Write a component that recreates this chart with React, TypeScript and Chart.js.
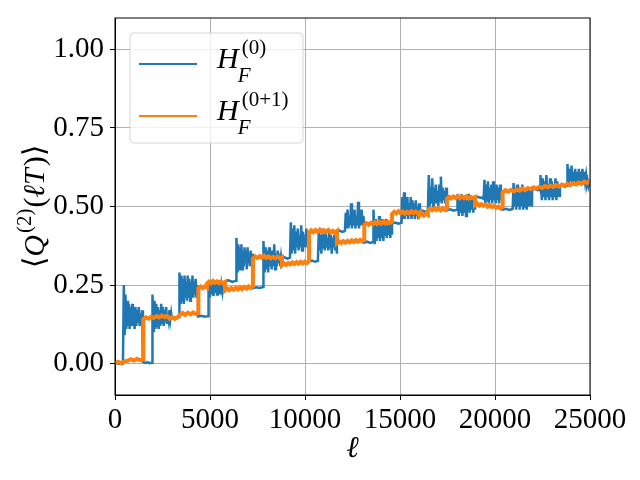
import React, { useEffect, useRef } from 'react';
import Chart from 'chart.js/auto';

const SERIF = '"Liberation Serif", "DejaVu Serif", serif';

const xTicks = [0, 5000, 10000, 15000, 20000, 25000];
const yTicks = [0, 0.25, 0.5, 0.75, 1.0];

// H_F^(0): segment edges in ℓ and the values read along each segment
const blueEdges = [
  0, 420, 1470, 1950, 3000, 3370, 4370, 4900, 5790, 6370, 7260, 7790, 8790, 9210, 10210, 10680, 11680, 12100,
  13120, 13580, 14580, 15080, 16050, 16470, 17470, 18000, 18950, 19400, 20400, 20930, 21950, 22370, 23420, 23790,
  24840, 25000,
];
const blueValues: number[][] = [
  [0.0, 0.002, -0.001, 0.001, 0.0],
  [0.01, 0.25, 0.09, 0.22, 0.11, 0.2, 0.12, 0.19, 0.11, 0.18, 0.12, 0.19, 0.12, 0.17, 0.11, 0.18, 0.12, 0.17, 0.13, 0.18, 0.12, 0.16, 0.13, 0.17, 0.13],
  [0.005, 0.002, 0.004, 0.001, 0.003],
  [0.01, 0.22, 0.1, 0.2, 0.11, 0.19, 0.12, 0.18, 0.11, 0.17, 0.12, 0.19, 0.13, 0.18, 0.12, 0.17, 0.13, 0.18, 0.13, 0.16, 0.14, 0.17, 0.14, 0.16, 0.14],
  [0.145, 0.148, 0.146, 0.149],
  [0.15, 0.29, 0.19, 0.28, 0.2, 0.27, 0.19, 0.28, 0.21, 0.26, 0.2, 0.28, 0.21, 0.27, 0.2, 0.26, 0.22, 0.28, 0.21, 0.26, 0.22, 0.27, 0.21, 0.25, 0.22],
  [0.15, 0.152, 0.149, 0.151],
  [0.16, 0.26, 0.21, 0.255, 0.22, 0.26, 0.215, 0.25, 0.225, 0.26, 0.22, 0.255, 0.225, 0.265, 0.22, 0.25, 0.23, 0.26, 0.225, 0.255],
  [0.262, 0.265, 0.26, 0.264],
  [0.27, 0.4, 0.29, 0.38, 0.3, 0.37, 0.31, 0.38, 0.3, 0.36, 0.31, 0.37, 0.32, 0.36, 0.3, 0.37, 0.32, 0.35, 0.31, 0.36, 0.32, 0.35, 0.31],
  [0.24, 0.243, 0.241, 0.244],
  [0.25, 0.39, 0.29, 0.37, 0.3, 0.36, 0.29, 0.37, 0.31, 0.35, 0.3, 0.36, 0.31, 0.38, 0.3, 0.35, 0.31, 0.36, 0.32, 0.35, 0.31, 0.34, 0.32],
  [0.335, 0.338, 0.334, 0.337],
  [0.34, 0.45, 0.35, 0.43, 0.36, 0.44, 0.35, 0.42, 0.37, 0.43, 0.36, 0.41, 0.37, 0.44, 0.36, 0.42, 0.38, 0.41, 0.37, 0.43, 0.38, 0.41, 0.37],
  [0.325, 0.328, 0.324, 0.327],
  [0.33, 0.42, 0.36, 0.41, 0.35, 0.43, 0.37, 0.41, 0.36, 0.42, 0.37, 0.4, 0.36, 0.42, 0.37, 0.41, 0.35, 0.4, 0.37, 0.41, 0.36, 0.4, 0.35],
  [0.42, 0.423, 0.419, 0.422],
  [0.42, 0.48, 0.43, 0.49, 0.43, 0.47, 0.44, 0.51, 0.43, 0.48, 0.44, 0.49, 0.43, 0.47, 0.44, 0.515, 0.43, 0.48, 0.44, 0.49, 0.44, 0.47, 0.43],
  [0.385, 0.388, 0.384, 0.387],
  [0.39, 0.49, 0.38, 0.46, 0.39, 0.45, 0.4, 0.47, 0.39, 0.44, 0.4, 0.46, 0.39, 0.45, 0.41, 0.46, 0.4, 0.44, 0.41, 0.45, 0.4, 0.44, 0.41],
  [0.446, 0.449, 0.445, 0.448],
  [0.45, 0.53, 0.46, 0.545, 0.46, 0.52, 0.47, 0.53, 0.46, 0.51, 0.47, 0.53, 0.46, 0.52, 0.47, 0.51, 0.46, 0.52, 0.47, 0.5, 0.46, 0.51, 0.47],
  [0.484, 0.487, 0.483, 0.486],
  [0.49, 0.6, 0.5, 0.56, 0.51, 0.59, 0.5, 0.56, 0.52, 0.57, 0.51, 0.55, 0.5, 0.57, 0.52, 0.595, 0.51, 0.56, 0.52, 0.55, 0.51, 0.56, 0.52],
  [0.488, 0.491, 0.487, 0.49],
  [0.49, 0.54, 0.47, 0.53, 0.48, 0.54, 0.47, 0.52, 0.48, 0.53, 0.47, 0.52, 0.49, 0.54, 0.48, 0.52, 0.49, 0.53, 0.48, 0.52, 0.49],
  [0.528, 0.531, 0.527, 0.53],
  [0.52, 0.585, 0.51, 0.57, 0.52, 0.58, 0.51, 0.56, 0.52, 0.57, 0.51, 0.58, 0.52, 0.56, 0.51, 0.57, 0.52, 0.56, 0.51, 0.57, 0.52, 0.55, 0.51],
  [0.49, 0.493, 0.489, 0.492],
  [0.49, 0.575, 0.5, 0.56, 0.49, 0.57, 0.5, 0.55, 0.49, 0.56, 0.5, 0.57, 0.49, 0.55, 0.5, 0.56, 0.49, 0.55, 0.5, 0.56, 0.5, 0.54, 0.5],
  [0.553, 0.556, 0.552, 0.555],
  [0.55, 0.6, 0.52, 0.59, 0.53, 0.58, 0.52, 0.6, 0.53, 0.57, 0.52, 0.59, 0.53, 0.58, 0.52, 0.57, 0.53, 0.59, 0.52, 0.58, 0.53, 0.57, 0.53],
  [0.564, 0.567, 0.563, 0.566],
  [0.57, 0.635, 0.57, 0.62, 0.58, 0.63, 0.57, 0.61, 0.58, 0.62, 0.57, 0.61, 0.58, 0.62, 0.57, 0.61, 0.58, 0.62, 0.57, 0.61, 0.58, 0.6, 0.57],
  [0.57, 0.58, 0.565, 0.575, 0.57],
];

// H_F^(0+1)
const orangeEdges = [0, 1490, 4390, 4850, 5790, 7260, 8790, 10210, 11680, 13120, 14580, 16050, 16470, 17470, 18950, 20400, 25000];
const orangeValues: number[][] = [
  [0.002, 0.006, 0.001, 0.007, 0.009, 0.014, 0.01, 0.015, 0.011, 0.013],
  [0.141, 0.147, 0.143, 0.149, 0.145, 0.151, 0.147, 0.153, 0.148, 0.152, 0.143, 0.148, 0.142, 0.147, 0.156, 0.161, 0.155, 0.162, 0.157, 0.163, 0.158, 0.161],
  [0.239, 0.245, 0.24, 0.246, 0.242],
  [0.255, 0.261, 0.256, 0.263, 0.257, 0.262, 0.256, 0.261, 0.255, 0.259],
  [0.233, 0.239, 0.234, 0.24, 0.235, 0.241, 0.236, 0.243, 0.237, 0.244, 0.239, 0.246, 0.241, 0.247],
  [0.334, 0.341, 0.336, 0.342, 0.337, 0.343, 0.336, 0.341, 0.335, 0.34, 0.336, 0.341, 0.335, 0.339],
  [0.313, 0.319, 0.314, 0.32, 0.316, 0.322, 0.317, 0.323, 0.318, 0.324, 0.319, 0.325, 0.32, 0.326],
  [0.417, 0.424, 0.418, 0.425, 0.419, 0.426, 0.418, 0.424, 0.419, 0.425, 0.418, 0.423, 0.417, 0.422],
  [0.383, 0.389, 0.384, 0.39, 0.385, 0.391, 0.386, 0.392, 0.387, 0.393, 0.388, 0.394, 0.389, 0.393],
  [0.441, 0.447, 0.442, 0.448, 0.443, 0.45, 0.444, 0.451, 0.445, 0.452, 0.446, 0.452, 0.447, 0.451],
  [0.476, 0.483, 0.478, 0.485, 0.479, 0.484, 0.477, 0.483, 0.478, 0.485, 0.479, 0.484, 0.477, 0.482],
  [0.472, 0.478, 0.471, 0.477, 0.473],
  [0.487, 0.493, 0.488, 0.494, 0.489, 0.495, 0.488, 0.494, 0.489, 0.493],
  [0.525, 0.531, 0.526, 0.532, 0.527, 0.533, 0.526, 0.532, 0.527, 0.533, 0.526, 0.531, 0.527, 0.53],
  [0.505, 0.51, 0.503, 0.508, 0.502, 0.506, 0.499, 0.504, 0.498, 0.502, 0.496, 0.5, 0.494, 0.498],
  [0.545, 0.552, 0.547, 0.553, 0.548, 0.554, 0.55, 0.557, 0.552, 0.559, 0.555, 0.561, 0.557, 0.563, 0.559, 0.565, 0.561, 0.566, 0.562, 0.568, 0.564, 0.57, 0.566, 0.572, 0.568, 0.574, 0.57, 0.576, 0.572, 0.579, 0.575, 0.58],
];

const seriesSup = ['(0)', '(0+1)'];
const seriesColors = ['#1f77b4', '#ff7f0e'];

// values of a segment are placed evenly between its two edges
const toPoints = (edges: number[], values: number[][]) =>
  values.flatMap((vals, k) =>
    vals.map((v, i) => ({ x: edges[k] + ((edges[k + 1] - edges[k]) * i) / (vals.length - 1), y: v })),
  );

type Run = { t: string; size: number; italic?: boolean; dy?: number; dx?: number };

// draws a row of text runs along one baseline
function drawRuns(ctx: CanvasRenderingContext2D, runs: Run[], x: number, y: number) {
  let pen = x;
  for (const r of runs) {
    ctx.font = `${r.italic ? 'italic ' : ''}${r.size}px ${SERIF}`;
    ctx.fillText(r.t, pen + (r.dx || 0), y + (r.dy || 0));
    pen += ctx.measureText(r.t).width + (r.dx || 0);
  }
  return pen - x;
}

function measureRuns(ctx: CanvasRenderingContext2D, runs: Run[]) {
  let w = 0;
  for (const r of runs) {
    ctx.font = `${r.italic ? 'italic ' : ''}${r.size}px ${SERIF}`;
    w += ctx.measureText(r.t).width + (r.dx || 0);
  }
  return w;
}

const yTitleRuns: Run[] = [
  { t: '⟨', size: 30 },
  { t: 'Q', size: 30, italic: true },
  { t: '(2)', size: 21, dy: -13, dx: 2 },
  { t: '(', size: 30, dx: 1 },
  { t: 'ℓ', size: 30, italic: true },
  { t: 'T', size: 30, italic: true },
  { t: ')', size: 30, dx: 2 },
  { t: '⟩', size: 30 },
];

const decorations = {
  id: 'decorations',
  afterDraw(chart: any) {
    const { ctx, chartArea: a } = chart;
    ctx.save();
    // full box around the axes
    ctx.strokeStyle = '#000';
    ctx.lineWidth = 1;
    ctx.strokeRect(a.left, a.top, a.right - a.left, a.bottom - a.top);

    ctx.fillStyle = '#000';
    ctx.textBaseline = 'alphabetic';

    // x title
    ctx.font = `italic 30px ${SERIF}`;
    ctx.textAlign = 'center';
    ctx.fillText('ℓ', (a.left + a.right) / 2, a.bottom + 62);
    ctx.textAlign = 'left';

    // y title, rotated
    ctx.save();
    const w = measureRuns(ctx, yTitleRuns);
    ctx.translate(44, (a.top + a.bottom) / 2 + w / 2);
    ctx.rotate(-Math.PI / 2);
    drawRuns(ctx, yTitleRuns, 0, 0);
    ctx.restore();

    // legend
    const bx = a.left + 15;
    const by = a.top + 15;
    const bw = 173;
    const bh = 110;
    ctx.beginPath();
    ctx.roundRect(bx, by, bw, bh, 4);
    ctx.fillStyle = 'rgba(255,255,255,0.8)';
    ctx.fill();
    ctx.strokeStyle = 'rgba(204,204,204,0.8)';
    ctx.lineWidth = 1;
    ctx.stroke();
    seriesSup.forEach((sup, i) => {
      const ly = by + 31 + i * 52;
      ctx.strokeStyle = seriesColors[i];
      ctx.lineWidth = 2;
      ctx.beginPath();
      ctx.moveTo(bx + 9, ly);
      ctx.lineTo(bx + 67, ly);
      ctx.stroke();
      ctx.fillStyle = '#000';
      ctx.font = `italic 30px ${SERIF}`;
      const hx = bx + 87;
      const base = ly + 4;
      ctx.fillText('H', hx, base);
      const hw = ctx.measureText('H').width;
      ctx.font = `italic 21px ${SERIF}`;
      ctx.fillText('F', hx + hw - 1, base + 14);
      ctx.font = `21px ${SERIF}`;
      ctx.fillText(sup, hx + hw + 3, base - 14);
    });
    ctx.restore();
  },
};

const App: React.FC = () => {
  const canvasRef = useRef<HTMLCanvasElement | null>(null);
  const chartRef = useRef<Chart | null>(null);

  useEffect(() => {
    document.body.style.margin = '0';
    if (!canvasRef.current) return;
    if (chartRef.current) chartRef.current.destroy();

    const tickFont = { family: SERIF, size: 29 };
    const grid = { color: '#b0b0b0', lineWidth: 1, tickLength: 5, tickColor: '#000', tickWidth: 1 };

    chartRef.current = new Chart(canvasRef.current, {
      type: 'line',
      data: {
        datasets: [
          {
            label: 'H_F^(0)',
            data: toPoints(blueEdges, blueValues),
            borderColor: seriesColors[0],
            borderWidth: 2.5,
            pointRadius: 0,
            tension: 0,
            order: 2,
          },
          {
            label: 'H_F^(0+1)',
            data: toPoints(orangeEdges, orangeValues),
            borderColor: seriesColors[1],
            borderWidth: 4,
            pointRadius: 0,
            tension: 0,
            order: 1,
          },
        ],
      },
      options: {
        responsive: false,
        animation: false,
        layout: { padding: { top: 18, right: 50, left: 0, bottom: 0 } },
        plugins: { legend: { display: false }, tooltip: { enabled: false } },
        scales: {
          x: {
            type: 'linear',
            min: 0,
            max: 25000,
            afterBuildTicks: (s: any) => {
              s.ticks = xTicks.map((v) => ({ value: v }));
            },
            afterFit: (s: any) => {
              s.height = 85;
              s.paddingLeft = 0;
              s.paddingRight = 0;
            },
            ticks: { font: tickFont, color: '#000', padding: 3, maxRotation: 0, callback: (v: any) => String(v) },
            grid,
            border: { display: true, color: '#000', width: 1 },
          },
          y: {
            type: 'linear',
            min: -0.1,
            max: 1.1,
            afterBuildTicks: (s: any) => {
              s.ticks = yTicks.map((v) => ({ value: v }));
            },
            afterFit: (s: any) => {
              s.width = 115;
              s.paddingTop = 0;
              s.paddingBottom = 0;
            },
            ticks: { font: tickFont, color: '#000', padding: 6, callback: (v: any) => Number(v).toFixed(2) },
            grid,
            border: { display: true, color: '#000', width: 1 },
          },
        },
      },
      plugins: [decorations],
    });

    return () => {
      if (chartRef.current) {
        chartRef.current.destroy();
        chartRef.current = null;
      }
    };
  }, []);

  return (
    <div style={{ width: 640, height: 480, background: '#fff' }}>
      <canvas ref={canvasRef} width={640} height={480} />
    </div>
  );
};

export default App;
